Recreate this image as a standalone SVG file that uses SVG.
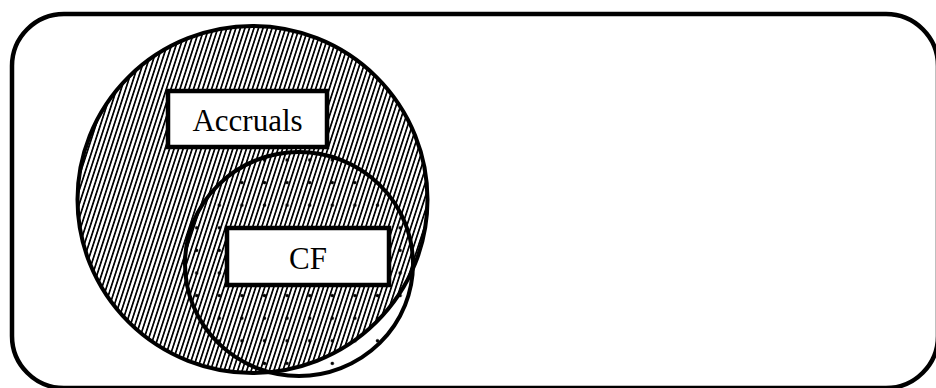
<svg xmlns="http://www.w3.org/2000/svg" width="936" height="388" viewBox="0 0 936 388">
  <defs>
    <pattern id="hatch" patternUnits="userSpaceOnUse" width="4.3" height="20" patternTransform="rotate(18)">
      <rect x="0" y="0" width="1.7" height="20" fill="#000"/>
    </pattern>
    <pattern id="dots" patternUnits="userSpaceOnUse" x="185.4" y="148.7" width="22.6" height="22.6">
      <circle cx="11.3" cy="11.3" r="1.7" fill="#000"/>
    </pattern>
  </defs>
  <style>
    .outline { fill: none; stroke: #000; stroke-width: 4; }
    .box { fill: #fff; stroke: #000; stroke-width: 4.5; }
    .label { font-family: "Liberation Serif", "Times New Roman", serif; font-size: 31px; fill: #000; text-anchor: middle; }
  </style>
  <rect id="frame" x="12" y="14" width="926" height="374" rx="52" ry="52" fill="#fff" stroke="#000" stroke-width="4.5"/>
  <g id="accruals-circle">
    <ellipse cx="252.5" cy="199.5" rx="175" ry="173.5" fill="#fff"/>
    <ellipse cx="252.5" cy="199.5" rx="175" ry="173.5" fill="url(#hatch)"/>
  </g>
  <g id="cf-circle">
    <ellipse cx="299" cy="264" rx="114" ry="112" fill="url(#dots)"/>
    <ellipse cx="299" cy="264" rx="114" ry="112" class="outline"/>
  </g>
  <ellipse cx="252.5" cy="199.5" rx="175" ry="173.5" class="outline"/>
  <g id="accruals-label">
    <rect class="box" x="168" y="91" width="159" height="56"/>
    <text class="label" x="247.5" y="131">Accruals</text>
  </g>
  <g id="cf-label">
    <rect class="box" x="227" y="228" width="162" height="57"/>
    <text class="label" x="308" y="268.5">CF</text>
  </g>
  <g id="connectors"/>
</svg>
